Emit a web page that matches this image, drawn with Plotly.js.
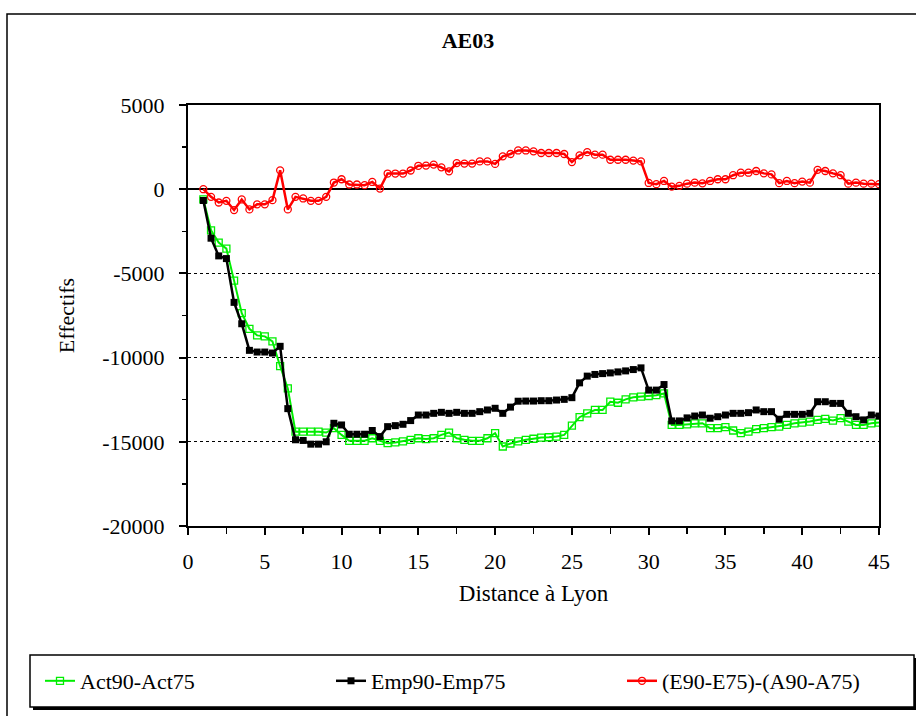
<!DOCTYPE html>
<html>
<head>
<meta charset="utf-8">
<script src="https://cdn.plot.ly/plotly-3.0.1.min.js"></script>
<style>html,body{margin:0;padding:0;background:#fff;}#chart{width:916px;height:716px;}</style>
</head>
<body>
<div id="chart"></div>
<script>
// Distance to Lyon (km)
const distance = [1,1.5,2,2.5,3,3.5,4,4.5,5,5.5,6,6.5,7,7.5,8,8.5,9,9.5,10,10.5,
  11,11.5,12,12.5,13,13.5,14,14.5,15,15.5,16,16.5,17,17.5,18,18.5,19,19.5,20,20.5,
  21,21.5,22,22.5,23,23.5,24,24.5,25,25.5,26,26.5,27,27.5,28,28.5,29,29.5,30,30.5,
  31,31.5,32,32.5,33,33.5,34,34.5,35,35.5,36,36.5,37,37.5,38,38.5,39,39.5,40,40.5,
  41,41.5,42,42.5,43,43.5,44,44.5,45];

const act = [-600,-2440,-3170,-3530,-5430,-7360,-8290,-8680,-8740,-9040,
  -10510,-11830,-14400,-14400,-14400,-14400,-14450,-14190,-14590,-14940,
  -14940,-14940,-14790,-14940,-15080,-15040,-14980,-14880,-14790,-14840,
  -14790,-14590,-14450,-14790,-14880,-14940,-14940,-14790,-14490,-15280,
  -15100,-14970,-14880,-14820,-14750,-14730,-14690,-14590,-14040,-13540,
  -13310,-13110,-13110,-12620,-12680,-12480,-12360,-12320,-12280,-12230,
  -12130,-14000,-14000,-13970,-13900,-13900,-14190,-14190,-14130,-14330,
  -14490,-14390,-14250,-14190,-14130,-14100,-14000,-13900,-13860,-13800,
  -13700,-13640,-13740,-13600,-13800,-14000,-14000,-13900,-13860];

const emp = [-670,-2910,-3960,-4120,-6720,-7990,-9570,-9670,-9670,-9730,
  -9330,-13030,-14880,-14920,-15140,-15140,-15000,-13900,-14000,-14550,
  -14550,-14550,-14330,-14690,-14100,-14040,-13960,-13740,-13410,-13410,
  -13310,-13250,-13310,-13250,-13310,-13310,-13210,-13110,-13010,-13310,
  -12940,-12590,-12580,-12580,-12560,-12560,-12520,-12480,-12380,-11500,
  -11100,-11000,-10950,-10910,-10850,-10790,-10710,-10610,-11930,-11930,
  -11600,-13760,-13760,-13580,-13470,-13410,-13600,-13510,-13410,-13310,
  -13310,-13270,-13110,-13210,-13210,-13660,-13370,-13370,-13370,-13310,
  -12620,-12620,-12720,-12720,-13310,-13510,-13700,-13410,-13470];

const diff = [0,-455,-790,-690,-1240,-610,-1200,-900,-900,-650,
  1120,-1200,-455,-550,-690,-690,-455,395,590,280,
  280,240,430,40,930,930,930,1110,1390,1400,
  1460,1300,1060,1550,1520,1520,1650,1650,1500,1950,
  2090,2300,2300,2250,2150,2150,2150,2090,1610,2010,
  2200,2050,2050,1750,1750,1750,1700,1650,370,300,
  490,150,200,330,390,350,490,590,590,830,
  980,980,1080,940,880,360,490,360,450,390,
  1150,1080,940,830,330,390,330,330,300];

const seriesNames = ["Act90-Act75", "Emp90-Emp75", "(E90-E75)-(A90-A75)"];
const yTickVals = [-20000,-15000,-10000,-5000,0,5000];
const yTickText = ["-20000","-15000","-10000","-5000","0","5000"];
const xTickVals = [0,5,10,15,20,25,30,35,40,45];
const xTickText = ["0","5","10","15","20","25","30","35","40","45"];

const W = 916, H = 716;
const L = 188, R = 879, T = 105, B = 526;
const pw = R - L, ph = B - T;
const px = v => (v - L) / pw;
const py = v => (B - v) / ph;

const traces = [
  {x: distance, y: act, name: seriesNames[0], type: "scatter", mode: "lines+markers",
   line: {color: "#00ee00", width: 2},
   marker: {symbol: "square-open", size: 7, color: "#00ee00", line: {width: 1.3, color: "#00ee00"}}},
  {x: distance, y: emp, name: seriesNames[1], type: "scatter", mode: "lines+markers",
   line: {color: "#000000", width: 2.5},
   marker: {symbol: "square", size: 7, color: "#000000"}},
  {x: distance, y: diff, name: seriesNames[2], type: "scatter", mode: "lines+markers",
   line: {color: "#ff0000", width: 2.5},
   marker: {symbol: "circle-open", size: 7, color: "#ff0000", line: {width: 1.3, color: "#ff0000"}}}
];

const fontFam = "'Liberation Serif', 'Times New Roman', Times, serif";

const layout = {
  width: W, height: H,
  margin: {l: L, r: W - R, t: T, b: H - B, pad: 0},
  paper_bgcolor: "#ffffff", plot_bgcolor: "#ffffff",
  font: {family: fontFam, size: 22, color: "#000"},
  showlegend: true,
  title: {text: "<b>AE03</b>", x: 468 / W, xref: "container", xanchor: "center",
          y: 1 - 40 / H, yref: "container", yanchor: "middle",
          font: {family: fontFam, size: 22, color: "#000"}},
  xaxis: {
    range: [0, 45], tickmode: "array", tickvals: xTickVals, ticktext: xTickText,
    showline: true, linecolor: "#000", linewidth: 2, mirror: true,
    ticks: "outside", ticklen: 7, tickwidth: 2, tickcolor: "#000",
    minor: {dtick: 2.5, tick0: 0, ticks: "outside", ticklen: 6, tickwidth: 1.5, tickcolor: "#000", showgrid: false},
    showgrid: false, zeroline: false, ticklabelstandoff: 8,
    tickfont: {family: fontFam, size: 22},
    title: {text: "Distance à Lyon", standoff: 11, font: {family: fontFam, size: 23}}
  },
  xaxis2: {
    overlaying: "x", anchor: "y", side: "bottom",
    range: [0, 45], tickmode: "array", tickvals: xTickVals, ticktext: xTickText,
    showticklabels: false, showline: false, showgrid: false, zeroline: false,
    ticks: "inside", ticklen: 7, tickwidth: 2, tickcolor: "#000",
    minor: {dtick: 2.5, tick0: 0, ticks: "inside", ticklen: 6, tickwidth: 1.5, tickcolor: "#000", showgrid: false}
  },
  yaxis: {
    range: [-20000, 5000], tickmode: "array", tickvals: yTickVals, ticktext: yTickText,
    showline: true, linecolor: "#000", linewidth: 2, mirror: true,
    ticks: "outside", ticklen: 7, tickwidth: 2, tickcolor: "#000",
    minor: {dtick: 2500, tick0: 0, ticks: "outside", ticklen: 4, tickwidth: 1.5, tickcolor: "#000", showgrid: false},
    showgrid: true, gridcolor: "#000", gridwidth: 1.3, griddash: "dot",
    zeroline: true, zerolinecolor: "#000", zerolinewidth: 2,
    ticklabelstandoff: 10,
    tickfont: {family: fontFam, size: 22},
    title: {text: "Effectifs", standoff: 22, font: {family: fontFam, size: 22}}
  },
  yaxis2: {
    overlaying: "y", anchor: "x", side: "left",
    range: [-20000, 5000], tickmode: "array", tickvals: yTickVals, ticktext: yTickText,
    showticklabels: false, showline: false, showgrid: false, zeroline: false,
    ticks: "",
    minor: {dtick: 2500, tick0: 0, ticks: "inside", ticklen: 4, tickwidth: 1.5, tickcolor: "#000", showgrid: false}
  },
  legend: {
    orientation: "h", xref: "paper", yref: "paper",
    x: px(40), xanchor: "left", y: py(681), yanchor: "middle",
    font: {family: fontFam, size: 22, color: "#000"},
    bgcolor: "rgba(0,0,0,0)", borderwidth: 0,
    entrywidth: 246, entrywidthmode: "pixels", itemclick: false
  },
  shapes: [
    // outer chart frame
    {type: "rect", xref: "paper", yref: "paper", x0: px(7), x1: px(930), y0: py(14), y1: py(730),
     line: {color: "#000", width: 1.5}, fillcolor: "rgba(0,0,0,0)", layer: "below"},
    // legend shadow
    {type: "rect", xref: "paper", yref: "paper", x0: px(33), x1: px(917), y0: py(658), y1: py(710),
     line: {width: 0}, fillcolor: "#000", layer: "below"},
    // legend box
    {type: "rect", xref: "paper", yref: "paper", x0: px(30), x1: px(914), y0: py(655), y1: py(707),
     line: {color: "#000", width: 1.5}, fillcolor: "#fff", layer: "below"}
  ]
};

Plotly.newPlot("chart", traces, layout, {staticPlot: true, displayModeBar: false});
</script>
</body>
</html>
